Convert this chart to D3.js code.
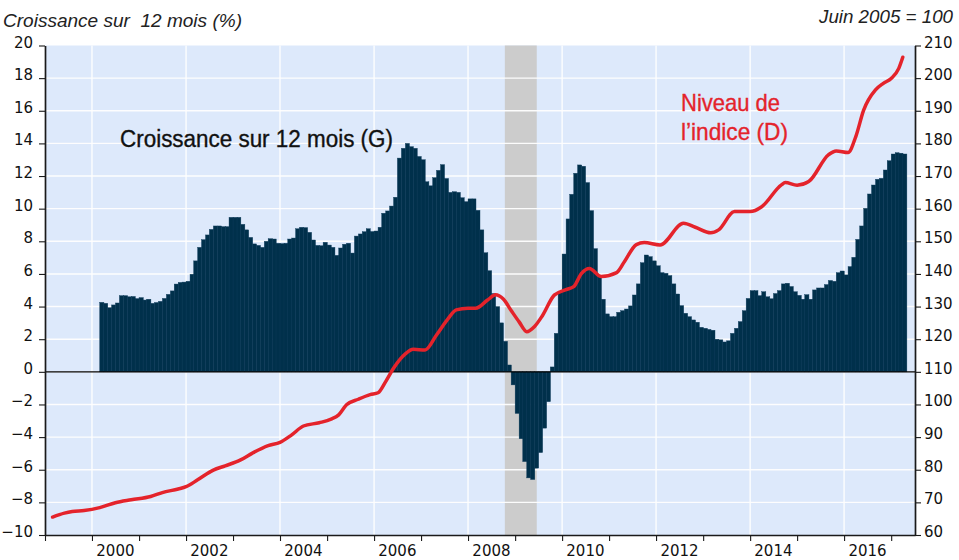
<!DOCTYPE html>
<html><head><meta charset="utf-8">
<script src="https://cdn.jsdelivr.net/npm/d3@7"></script>
<style>body{margin:0;background:#fff} svg{display:block}</style>
</head><body><svg id="c" width="959" height="560"></svg>
<script>
// ---- data ----
const growthStart = "2000-03";
const growthValues = [
 4.26,4.2,3.93,4.1,4.22,4.67,4.67,4.6,4.62,4.49,
 4.55,4.4,4.45,4.2,4.25,4.32,4.5,4.75,4.96,5.38,
 5.48,5.5,5.55,5.98,6.8,7.63,8.1,8.39,8.73,8.94,
 8.94,8.9,8.9,9.47,9.47,9.47,9.04,8.7,8.24,7.84,
 7.75,7.63,8.0,8.16,8.14,7.88,7.86,7.88,8.14,8.2,
 8.77,8.86,8.84,8.55,8.08,7.75,7.73,7.94,7.77,7.63,
 7.14,7.59,7.82,7.88,7.28,8.32,8.45,8.59,8.77,8.6,
 8.63,8.86,9.72,9.86,10.16,10.7,13.1,13.7,14.0,13.8,
 13.7,13.2,13.0,11.65,11.4,11.9,12.35,12.7,11.85,11.0,
 11.04,11.0,10.67,10.43,10.6,10.6,9.9,8.7,7.3,6.2,
 4.8,4.0,3.0,1.87,0.42,-0.8,-2.55,-4.1,-5.5,-6.5,
 -6.6,-5.9,-4.95,-3.45,-1.83,0.3,2.36,4.9,7.22,9.37,
 10.88,12.17,12.68,12.6,11.6,9.88,7.55,5.83,4.45,3.55,
 3.38,3.38,3.65,3.75,3.85,4.04,4.71,5.39,6.69,7.16,
 7.06,6.8,6.5,6.08,6.04,5.9,5.39,4.77,4.06,3.59,
 3.38,3.18,3.04,2.73,2.67,2.6,2.55,2.0,1.96,1.83,
 1.9,2.36,2.67,3.08,3.75,4.5,4.98,4.98,4.67,4.91,
 4.6,4.48,4.8,4.98,5.39,5.43,5.23,4.91,4.69,4.45,
 4.73,4.45,5.02,5.14,5.14,5.35,5.6,5.55,6.08,6.18,
 5.94,6.45,7.02,8.12,8.94,10.02,10.9,11.45,11.8,11.86,
 12.37,12.94,13.35,13.43,13.4,13.35
];
const indexMonths = ["1999-03","1999-06","1999-08","1999-11","2000-03","2000-07","2000-11","2001-04","2001-07","2001-11",
 "2002-01","2002-04","2002-08","2002-11","2003-03","2003-06","2003-10","2004-01","2004-04","2004-07",
 "2004-11","2005-02","2005-04","2005-06","2005-09","2005-12","2006-02","2006-04","2006-06","2006-09",
 "2006-11","2007-02","2007-05","2007-08","2007-10","2008-01","2008-03","2008-06","2008-08","2008-10",
 "2008-12","2009-02","2009-04","2009-06","2009-08","2009-11","2010-02","2010-04","2010-06","2010-08",
 "2010-11","2011-03","2011-05","2011-08","2011-10","2012-02","2012-08","2012-11","2013-03","2013-05",
 "2013-09","2014-01","2014-04","2014-09","2014-10","2015-01","2015-04","2015-09","2015-11","2016-02",
 "2016-04","2016-06","2016-09","2016-11","2017-01","2017-03","2017-04"];
const indexValues = [65.5,66.7,67.2,67.5,68.4,69.9,70.8,71.8,73.0,74.1,
 74.8,76.9,79.9,81.2,83.0,85.1,87.4,88.4,90.7,93.4,
 94.4,95.5,96.8,99.9,101.6,103.0,103.6,107.0,111.1,115.5,
 116.9,116.7,121.3,126.4,129.0,129.5,129.5,132.0,133.6,132.3,
 128.8,125.3,122.3,123.9,127.2,133.5,135.2,136.1,140.2,141.7,
 139.2,140.4,143.8,149.0,149.6,148.9,155.5,154.3,152.6,153.5,
 159.1,159.1,160.6,167.3,168.0,167.2,168.3,176.5,177.7,177.2,
 182.1,190.2,196.4,198.4,199.9,203.0,206.4];
const recession = ["2008-10-13","2009-06-18"];
const leftTickValues = [-10,-8,-6,-4,-2,0,2,4,6,8,10,12,14,16,18,20];
const rightTickValues = [60,70,80,90,100,110,120,130,140,150,160,170,180,190,200,210];
const yearLabels = ["2000","2002","2004","2006","2008","2010","2012","2014","2016"];
const gridYears = ["2000","2002","2004","2006","2008","2010","2012","2014","2016"];

// ---- drawing ----
const svg = d3.select("#c");
const L = 45, R = 915, T = 45.5, B = 535;
const pm = d3.timeParse("%Y-%m"), pd = d3.timeParse("%Y-%m-%d");
const x = d3.scaleTime().domain([new Date(1999,0,1), new Date(2017,6,5)]).range([L, R]);
const yL = d3.scaleLinear().domain([-10,20]).range([B, T]);
const yR = d3.scaleLinear().domain([60,210]).range([B, T]);
const tickFont = "DejaVu Sans, sans-serif";
const red = "#e4232b";

svg.append("rect").attr("x",L).attr("y",T).attr("width",R-L).attr("height",B-T).attr("fill","#dde9fb");
svg.append("rect").attr("x",x(pd(recession[0]))).attr("y",T)
  .attr("width",x(pd(recession[1]))-x(pd(recession[0]))).attr("height",B-T).attr("fill","#cccccc");

const g = svg.append("g");
g.selectAll(".hg").data(leftTickValues.filter(v=>v!==-10 && v!==20)).join("line")
  .attr("x1",L).attr("x2",R).attr("y1",d=>yL(d)).attr("y2",d=>yL(d))
  .attr("stroke","#fff").attr("stroke-width",1.4).attr("opacity",0.95);
g.selectAll(".vg").data(gridYears).join("line")
  .attr("x1",d=>x(new Date(+d,0,1))).attr("x2",d=>x(new Date(+d,0,1))).attr("y1",T).attr("y2",B)
  .attr("stroke","#fff").attr("stroke-width",1.4).attr("opacity",0.95);

// bars
const start = pm(growthStart);
const bars = growthValues.map((v,i)=>({d:d3.timeMonth.offset(start,i), e:d3.timeMonth.offset(start,i+1), v}));
svg.append("g").selectAll("rect").data(bars).join("rect")
  .attr("x",d=>x(d.d)).attr("width",d=>x(d.e)-x(d.d)+0.25)
  .attr("y",d=>Math.min(yL(d.v),yL(0))).attr("height",d=>Math.abs(yL(d.v)-yL(0)))
  .attr("fill","#00304b").attr("stroke","#0f3d5c").attr("stroke-width",0.4);

// zero line
svg.append("line").attr("x1",L).attr("x2",R).attr("y1",yL(0)).attr("y2",yL(0))
  .attr("stroke","#000").attr("stroke-width",1.3);

// index line
const pts = indexMonths.map((m,i)=>({d:pm(m), v:indexValues[i]}));
svg.append("path").datum(pts)
  .attr("d", d3.line().x(d=>x(d.d)).y(d=>yR(d.v)).curve(d3.curveMonotoneX))
  .attr("fill","none").attr("stroke",red).attr("stroke-width",3.5)
  .attr("stroke-linecap","round").attr("stroke-linejoin","round");

// axes
function styleAxis(sel){
  sel.select(".domain").attr("stroke","#1a1a1a").attr("stroke-width",1.7);
  sel.selectAll(".tick line").attr("stroke","#1a1a1a").attr("stroke-width",1.1);
  sel.selectAll(".tick text").attr("font-family",tickFont).attr("font-size",15).attr("fill","#111");
}
const ax1 = svg.append("g").attr("transform",`translate(${L},0)`)
  .call(d3.axisLeft(yL).tickValues(leftTickValues).tickSize(6).tickPadding(6).tickSizeOuter(0));
styleAxis(ax1); ax1.selectAll(".tick text").attr("dy","0.1em");
const ax2 = svg.append("g").attr("transform",`translate(${R},0)`)
  .call(d3.axisRight(yR).tickValues(rightTickValues).tickSize(6).tickPadding(3).tickSizeOuter(0));
styleAxis(ax2); ax2.selectAll(".tick text").attr("dy","0.1em");
const ax3 = svg.append("g").attr("transform",`translate(0,${B})`)
  .call(d3.axisBottom(x).ticks(d3.timeYear.every(1)).tickFormat("").tickSize(6).tickSizeOuter(0));
styleAxis(ax3);
svg.append("g").selectAll("text").data(yearLabels).join("text")
  .attr("x",d=>x(new Date(+d,6,1))).attr("y",556).attr("text-anchor","middle")
  .attr("font-family",tickFont).attr("font-size",15).attr("fill","#111").text(d=>d);

// titles and annotations
const tf = "Liberation Sans, Arial, sans-serif";
svg.append("text").attr("x",3).attr("y",27).attr("font-family",tf).attr("font-style","italic")
  .attr("font-size",19).attr("fill","#222").attr("textLength",239).attr("lengthAdjust","spacingAndGlyphs")
  .style("white-space","pre").text("Croissance sur  12 mois (%)");
svg.append("text").attr("x",819).attr("y",23).attr("font-family",tf).attr("font-style","italic")
  .attr("font-size",19).attr("fill","#222").attr("textLength",134).attr("lengthAdjust","spacingAndGlyphs")
  .text("Juin 2005 = 100");
svg.append("text").attr("x",120).attr("y",147).attr("font-family",tf)
  .attr("font-size",23).attr("fill","#111").attr("stroke","#111").attr("stroke-width",0.35)
  .attr("textLength",273).attr("lengthAdjust","spacingAndGlyphs")
  .text("Croissance sur 12 mois (G)");
svg.append("text").attr("x",681).attr("y",111).attr("font-family",tf)
  .attr("font-size",24).attr("fill",red).attr("stroke",red).attr("stroke-width",0.35)
  .attr("textLength",99).attr("lengthAdjust","spacingAndGlyphs")
  .text("Niveau de");
svg.append("text").attr("x",681).attr("y",140).attr("font-family",tf)
  .attr("font-size",24).attr("fill",red).attr("stroke",red).attr("stroke-width",0.35)
  .attr("textLength",107).attr("lengthAdjust","spacingAndGlyphs")
  .text("l’indice (D)");
</script></body></html>
